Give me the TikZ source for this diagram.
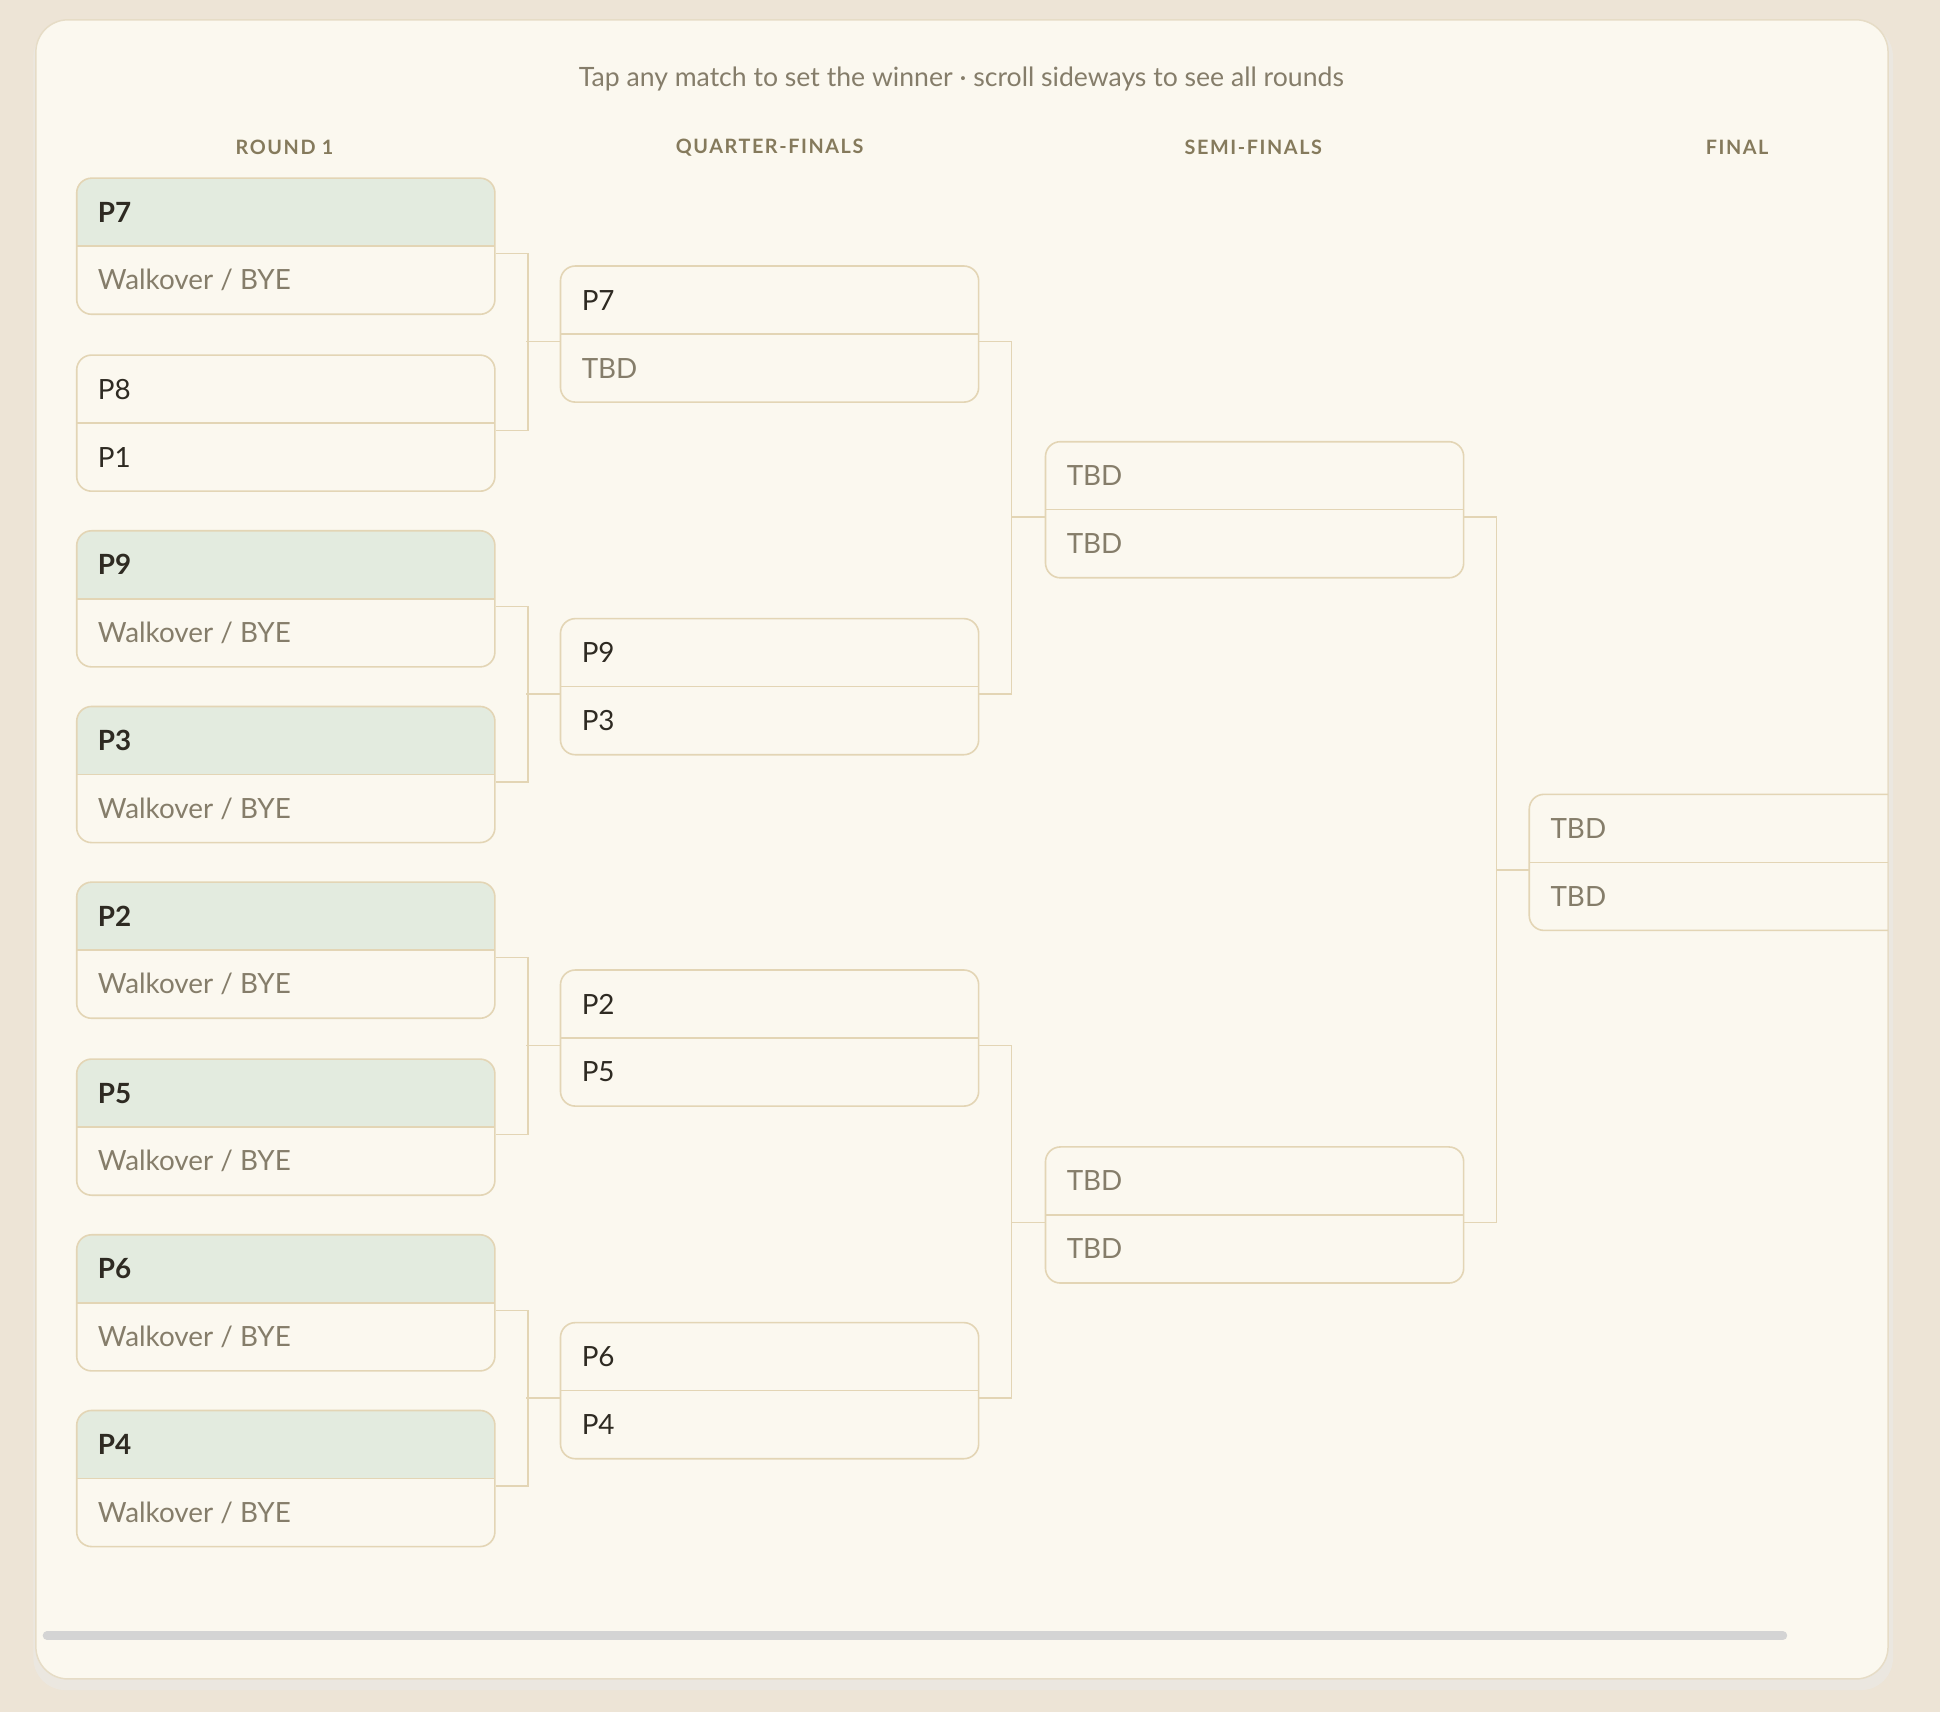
\documentclass[tikz,border=0pt]{standalone}
\usepackage{fontspec}
\setmainfont{Lato}
\definecolor{bg}{HTML}{EDE4D6}
\definecolor{card}{HTML}{FBF8EF}
\definecolor{cardline}{HTML}{E6DCC6}
\definecolor{boxline}{HTML}{E3D5B5}
\definecolor{win}{HTML}{E3EBDF}
\definecolor{dark}{HTML}{2E2A22}
\definecolor{soft}{HTML}{857D6A}
\definecolor{head}{HTML}{857A5C}
\definecolor{conn}{HTML}{E3D5B5}
\newcommand\bmatch[8]{%
  \begin{scope}
  \clip[rounded corners=12pt] (#2,#3) rectangle ++(338,110);
  \ifnum#8=1 \fill[win] (#2,#3) rectangle ++(338,55);\fi
  \end{scope}
  \node[mbox] (#1) at (#2+169,#3+55) {};
  \draw[boxline,line width=1.2pt] (#2,#3+55) -- ++(338,0);
  \node[#6] (#1t) at (#2+17,#3+27.5) {#4};
  \node[#7] (#1b) at (#2+17,#3+82.5) {#5};
}
\tikzset{
  mbox/.style={draw=boxline,line width=1.3pt,rounded corners=12pt,minimum width=338pt,minimum height=110pt,inner sep=0},
  pl/.style={anchor=west,inner sep=0,text=dark,font=\fontsize{22.5}{26}\selectfont},
  pw/.style={pl,font=\fontsize{22.5}{26}\selectfont\bfseries},
  ps/.style={pl,text=soft},
  hd/.style={text=head,font=\fontsize{16}{20}\selectfont\bfseries\addfontfeature{LetterSpace=8}},
  cn/.style={draw=conn,line width=1.2pt},
}
\begin{document}
\begin{tikzpicture}[x=1pt,y=-1pt]
\useasboundingbox (0,0) rectangle (1568,1384);
\fill[bg] (0,0) rectangle (1568,1384);
\fill[black!8,opacity=0.5,rounded corners=26pt] (27,20) rectangle (1530,1366);
\filldraw[fill=card,draw=cardline,line width=1.2pt,rounded corners=26pt] (29,16) rectangle (1526,1357);
\node[text=soft,font=\fontsize{21.5}{25}\selectfont] (sub) at (777,64) {Tap any match to set the winner · scroll sideways to see all rounds};
\node[hd] (h1) at (230,119) {ROUND 1};
\node[hd] (h2) at (622,119) {QUARTER-FINALS};
\node[hd] (h3) at (1013,119) {SEMI-FINALS};
\node[hd] (h4) at (1404,119) {FINAL};
\bmatch{ra}{62}{144}{P7}{Walkover / BYE}{pw}{ps}{1}
\bmatch{rb}{62}{287}{P8}{P1}{pl}{pl}{0}
\bmatch{rc}{62}{429}{P9}{Walkover / BYE}{pw}{ps}{1}
\bmatch{rd}{62}{571}{P3}{Walkover / BYE}{pw}{ps}{1}
\bmatch{re}{62}{713}{P2}{Walkover / BYE}{pw}{ps}{1}
\bmatch{rf}{62}{856}{P5}{Walkover / BYE}{pw}{ps}{1}
\bmatch{rg}{62}{998}{P6}{Walkover / BYE}{pw}{ps}{1}
\bmatch{rh}{62}{1140}{P4}{Walkover / BYE}{pw}{ps}{1}
\bmatch{qa}{453}{215}{P7}{TBD}{pl}{ps}{0}
\bmatch{qb}{453}{500}{P9}{P3}{pl}{pl}{0}
\bmatch{qc}{453}{784}{P2}{P5}{pl}{pl}{0}
\bmatch{qd}{453}{1069}{P6}{P4}{pl}{pl}{0}
\bmatch{sa}{845}{357}{TBD}{TBD}{ps}{ps}{0}
\bmatch{sb}{845}{927}{TBD}{TBD}{ps}{ps}{0}
\begin{scope}
\clip (0,0) rectangle (1526,1384);
\draw[boxline,line width=1.3pt,rounded corners=12pt] (1236,642) rectangle (1620,752);
\draw[boxline,line width=1.2pt] (1236,697) -- (1526,697);
\node[ps] (ft) at (1253,669.5) {TBD};
\node[ps] (fb) at (1253,724.5) {TBD};
\coordinate (fw) at (1236,703);
\end{scope}
\foreach \a/\b/\q in {ra/rb/qa,rc/rd/qb,re/rf/qc,rg/rh/qd,qa/qb/sa,qc/qd/sb}{
  \draw[cn] ([yshift=-6pt]\a.east) -- ++(26,0) |- ([yshift=-6pt]\b.east);
  \draw[cn] ([yshift=-6pt]\q.west) -- ++(-27,0);
}
\draw[cn] ([yshift=-6pt]sa.east) -- ++(26,0) |- ([yshift=-6pt]sb.east);
\draw[cn] (fw) -- ++(-27,0);
\draw[line width=7pt,line cap=round,draw=black!17] (38,1322) -- (1441,1322);
\end{tikzpicture}
\end{document}
